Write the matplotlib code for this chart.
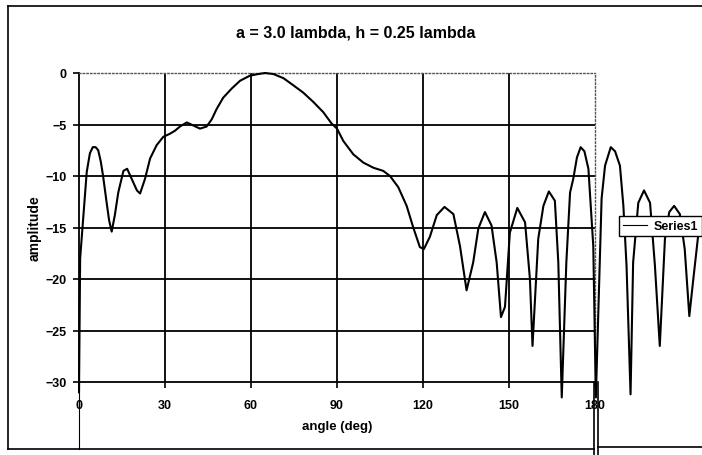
import matplotlib
matplotlib.use('Agg')
import matplotlib.pyplot as plt
from matplotlib.lines import Line2D

plt.rcParams['font.family'] = ['Liberation Sans', 'DejaVu Sans']

# data
angle = [0, 0.4, 2.7, 3.8, 4.8, 5.8, 6.7, 7.6, 8.4, 9.6, 10.5, 11.4, 12.5, 13.7,
         15.5, 16.8, 18.9, 20.2, 21.3, 23.0, 24.8, 27.1, 29.4, 31.7, 33.5, 35.2,
         37.6, 39.9, 42.2, 44.5, 46.3, 48.0, 50.3, 53.3, 56.2, 59.6, 62.5, 64.9,
         67.8, 71.3, 74.8, 78.2, 81.7, 85.2, 88.1, 90.0, 92.2, 95.7, 99.2, 102.7,
         106.1, 108.5, 111.4, 114.3, 116.6, 118.9, 120.3, 122.4, 124.8, 127.5,
         130.6, 132.9, 135.2, 137.5, 139.3, 141.6, 143.9, 145.7, 147.2, 148.6,
         150.3, 152.9, 155.6, 157.3, 158.2, 160.2, 162.0, 163.9, 166.0, 167.2,
         168.4, 170.0, 171.3, 172.4, 173.7, 175.0, 176.3, 177.7, 179.4, 180.3,
         182.3, 183.5, 185.5, 187.0, 188.7, 189.9, 191.0, 192.4, 193.3, 195.1,
         197.1, 199.2, 200.9, 202.6, 204.4, 205.9, 207.6, 209.6, 211.3, 212.9,
         214.3, 216.1, 217.4]
amplitude = [-31, -18, -9.6, -7.8, -7.2, -7.2, -7.5, -8.6, -10, -12.5, -14.3, -15.4,
             -13.8, -11.6, -9.5, -9.3, -10.6, -11.4, -11.7, -10.3, -8.3, -7.0, -6.2,
             -5.9, -5.6, -5.2, -4.8, -5.1, -5.4, -5.2, -4.5, -3.5, -2.4, -1.5, -0.75,
             -0.26, -0.1, 0, -0.1, -0.5, -1.2, -1.9, -2.8, -3.8, -4.9, -5.4, -6.6,
             -7.9, -8.7, -9.2, -9.5, -10, -11.1, -12.9, -15, -16.9, -17.1, -15.9,
             -13.8, -13.0, -13.7, -16.8, -21.1, -18.4, -15.1, -13.5, -14.8, -18.4,
             -23.7, -22.7, -15.5, -13.1, -14.5, -20, -26.5, -16.1, -12.9, -11.5,
             -12.4, -18.4, -31.5, -18.4, -11.6, -10.3, -8.2, -7.2, -7.6, -9.3, -16.8,
             -31.5, -12.2, -9, -7.2, -7.6, -9, -12.9, -18.7, -31.2, -18.4, -12.6,
             -11.4, -12.6, -18.7, -26.5, -16.1, -13.5, -12.9, -13.7, -17.1, -23.6,
             -20, -15.5, -14.8]
xticks = [0, 30, 60, 90, 120, 150, 180]
yticks = [0, -5, -10, -15, -20, -25, -30]

W, H = 702, 456
fig = plt.figure(figsize=(W / 100, H / 100), dpi=100)
ax = fig.add_axes([79 / W, 1 - 383 / H, 516 / W, 309 / H])

def fline(x0, y0, x1, y1, lw=1.2, color='black'):
    # line in pixel coords of the figure (y from the top)
    fig.add_artist(Line2D([x0 / W, x1 / W], [1 - y0 / H, 1 - y1 / H],
                          transform=fig.transFigure, color=color, lw=lw))

# gridlines
for v in yticks[1:-1]:
    ax.axhline(v, color='black', lw=1.3, zorder=1)
for v in xticks[1:-1]:
    ax.axvline(v, color='black', lw=1.3, zorder=1)

ax.plot(angle, amplitude, color='black', lw=1.5, clip_on=False, zorder=3,
        label='Series1')

ax.set_xlim(0, 180)
ax.set_ylim(-30, 0)
ax.set_xticks(xticks)
ax.set_yticks(yticks)
ax.tick_params(direction='out', length=4, width=1.2, labelsize=9)
ax.tick_params(axis='x', pad=8)
ax.tick_params(axis='y', pad=5)
for lab in ax.get_xticklabels() + ax.get_yticklabels():
    lab.set_fontweight('bold')
for s in ['left', 'bottom']:
    ax.spines[s].set_linewidth(1.3)
for s in ['top', 'right']:
    ax.spines[s].set_linestyle(':')
    ax.spines[s].set_color('#555555')
    ax.spines[s].set_linewidth(1.0)

fig.text(356 / W, 1 - 33 / H, 'a = 3.0 lambda, h = 0.25 lambda', ha='center',
         va='center', fontsize=11.5, fontweight='bold')
fig.text(35 / W, 1 - 228 / H, 'amplitude', rotation=90, ha='center',
         va='center', fontsize=10, fontweight='bold')
fig.text(337 / W, 1 - 427 / H, 'angle (deg)', ha='center', va='center',
         fontsize=9.5, fontweight='bold')

leg = ax.legend(loc='center left', bbox_to_anchor=(619 / W, 1 - 227 / H),
                bbox_transform=fig.transFigure, fancybox=False, framealpha=1,
                edgecolor='black', handlelength=1.9, handletextpad=0.6,
                borderpad=0.3, borderaxespad=0,
                prop={'size': 9, 'weight': 'bold'})
leg.get_frame().set_linewidth(1.0)
leg.get_lines()[0].set_linewidth(0.8)
leg.set_zorder(5)

# chart frame and scan artefacts
fline(8, 7, 702, 7)
fline(8, 7, 8, 450)
fline(8, 450, 594, 450)
fline(598, 448, 702, 448)
fline(79, 383, 79, 450, lw=0.8)
fline(594, 383, 594, 456)
fline(598, 383, 598, 456)

fig.savefig('out.png', dpi=100)
